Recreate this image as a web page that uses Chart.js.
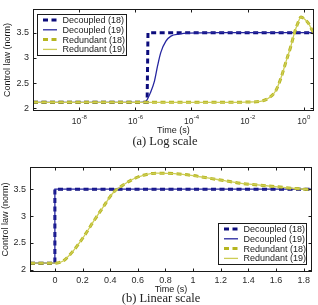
<!DOCTYPE html>
<html><head><meta charset="utf-8">
<script src="https://cdn.jsdelivr.net/npm/chart.js@4/dist/chart.umd.min.js"></script>
<style>
html,body{margin:0;padding:0;background:#fff;}
body{width:318px;height:305px;position:relative;overflow:hidden;}
.wrap{position:absolute;left:0;width:318px;}
#w1{top:0;height:136px;}
#w2{top:155px;height:140px;}
.cap{position:absolute;font-family:"Liberation Serif","Times New Roman",serif;font-size:12.5px;color:#222;white-space:nowrap;transform:translate(-50%,-50%);}
</style></head><body>
<div class="wrap" id="w1"><canvas id="c1"></canvas></div>
<div class="cap" style="left:165px;top:140.5px">(a) Log scale</div>
<div class="wrap" id="w2"><canvas id="c2"></canvas></div>
<div class="cap" style="left:161px;top:298px">(b) Linear scale</div>
<script>
// ---- data ----
const seriesNames = ['Decoupled (18)', 'Decoupled (19)', 'Redundant (18)', 'Redundant (19)'];
const yTicks = [2, 2.5, 3, 3.5];

// (a) log-scale panel
const logTicks = [1e-8, 1e-6, 1e-4, 1e-2, 1];
const logTickBase = '10';
const logTickExps = ['-8', '-6', '-4', '-2', '0'];
const logTimeDec18 = [2.24e-10, 2.63e-6, 2.82e-6, 2.29];
const logValDec18  = [2.12, 2.12, 3.5, 3.5];
const logTimeDec19 = [2.24e-10, 1.0e-6, 2.0e-6, 2.4e-6, 3.5e-6, 4.8e-6, 6.3e-6, 8.1e-6, 1.23e-5, 1.86e-5, 3.7e-5, 7.2e-5, 1e-3, 2.29];
const logValDec19  = [2.12, 2.12, 2.125, 2.14, 2.32, 2.54, 2.86, 3.11, 3.33, 3.43, 3.47, 3.49, 3.5, 3.5];
const logTimeRed = [2.24e-10, 1e-3, 1e-2, 0.035, 0.059, 0.102, 0.155, 0.234, 0.355, 0.468, 0.617, 0.81, 1.07, 1.51, 2.0, 2.29];
const logValRed  = [2.12, 2.12, 2.125, 2.15, 2.21, 2.35, 2.6, 2.92, 3.24, 3.49, 3.68, 3.81, 3.77, 3.68, 3.55, 3.5];

// (b) linear-scale panel
const linTicks = [0, 0.2, 0.4, 0.6, 0.8, 1, 1.2, 1.4, 1.6, 1.8];
const linTimeDec18 = [-0.18, 0, 0, 1.86];
const linValDec18  = [2.12, 2.12, 3.5, 3.5];
const linTimeDec19 = [-0.18, 0, 0.0001, 1.86];
const linValDec19  = [2.12, 2.12, 3.5, 3.5];
const linTimeRed = [-0.18, 0, 0.03, 0.06, 0.133, 0.205, 0.277, 0.35, 0.42, 0.494, 0.567, 0.64, 0.735, 0.865, 0.985, 1.105, 1.226, 1.347, 1.467, 1.588, 1.708, 1.853];
const linValRed  = [2.12, 2.12, 2.13, 2.16, 2.35, 2.60, 2.89, 3.17, 3.43, 3.58, 3.69, 3.76, 3.80, 3.79, 3.76, 3.71, 3.66, 3.61, 3.58, 3.55, 3.52, 3.49];

// ---- styles ----
const FONT = '"Liberation Sans", Arial, Helvetica, sans-serif';
const navyDash = '#0c0c7c', navyThin = '#2626a0', yelDash = '#b6b620', yelThin = '#cdcd55';
const pts = (xs, ys) => xs.map((x, i) => ({x: x, y: ys[i]}));

function makeDatasets(tD18, vD18, tD19, vD19, tR, vR18, vR19) {
  return [
    {label: seriesNames[0], data: pts(tD18, vD18), borderColor: navyDash, borderWidth: 3, borderDash: [5, 3.5], tension: 0, order: 4},
    {label: seriesNames[1], data: pts(tD19, vD19), borderColor: navyThin, borderWidth: 1.3, cubicInterpolationMode: 'monotone', order: 3},
    {label: seriesNames[2], data: pts(tR, vR18), borderColor: yelDash, borderWidth: 3, borderDash: [5, 3.5], cubicInterpolationMode: 'monotone', order: 2},
    {label: seriesNames[3], data: pts(tR, vR19), borderColor: yelThin, borderWidth: 1.3, cubicInterpolationMode: 'monotone', order: 1}
  ].map(d => Object.assign({pointRadius: 0, fill: false, backgroundColor: d.borderColor}, d));
}

const framePlugin = {
  id: 'frame',
  afterDatasetsDraw(chart, args, o) {
    const {ctx, chartArea: a} = chart;
    const xs = chart.scales.x, ys = chart.scales.y;
    ctx.save();
    ctx.setLineDash([]);
    ctx.strokeStyle = '#1a1a1a';
    ctx.lineWidth = 1;
    const L = Math.round(a.left) + 0.5, R = Math.round(a.right) - 0.5, T = Math.round(a.top) + 0.5, B = Math.round(a.bottom) - 0.5;
    ctx.beginPath();
    xs.ticks.forEach(t => {
      const p = Math.round(xs.getPixelForValue(t.value)) + 0.5;
      ctx.moveTo(p, B); ctx.lineTo(p, B - 3);
      ctx.moveTo(p, T); ctx.lineTo(p, T + 3);
    });
    ys.ticks.forEach(t => {
      const p = Math.round(ys.getPixelForValue(t.value)) + 0.5;
      ctx.moveTo(L, p); ctx.lineTo(L + 3, p);
      ctx.moveTo(R, p); ctx.lineTo(R - 3, p);
    });
    ctx.stroke();
    ctx.strokeRect(L, T, R - L, B - T);

    // legend
    const w = o.w, h = o.h;
    let bx, by;
    if (o.corner === 'tl') { bx = a.left + o.dx; by = a.top + o.dy; }
    else { bx = a.right - o.dx - w; by = a.bottom - o.dy - h; }
    bx = Math.round(bx) + 0.5; by = Math.round(by) + 0.5;
    ctx.fillStyle = '#fff';
    ctx.fillRect(bx, by, w, h);
    ctx.strokeStyle = '#1a1a1a';
    ctx.lineWidth = 1;
    ctx.strokeRect(bx, by, w, h);
    chart.data.datasets.forEach((d, i) => {
      const y = by + 5.5 + i * 9.8;
      ctx.save();
      ctx.strokeStyle = d.borderColor;
      ctx.lineWidth = d.borderWidth;
      ctx.setLineDash(d.borderDash || []);
      ctx.beginPath();
      ctx.moveTo(bx + 5.5, y); ctx.lineTo(bx + 19.5, y);
      ctx.stroke();
      ctx.restore();
      ctx.fillStyle = '#1a1a1a';
      ctx.font = '9px ' + FONT;
      ctx.textBaseline = 'middle';
      ctx.textAlign = 'left';
      ctx.fillText(d.label, bx + 25, y + 0.5);
    });

    // superscript log tick labels
    if (o.logLabels) {
      const ly = a.bottom + 11;
      xs.ticks.forEach((t, i) => {
        const p = xs.getPixelForValue(t.value);
        ctx.font = '8.5px ' + FONT;
        const w1 = ctx.measureText(logTickBase).width;
        ctx.font = '6px ' + FONT;
        const w2 = ctx.measureText(logTickExps[i]).width;
        const sx = p - (w1 + w2) / 2;
        ctx.fillStyle = '#2a2a2a';
        ctx.textAlign = 'left';
        ctx.textBaseline = 'middle';
        ctx.font = '8.5px ' + FONT;
        ctx.fillText(logTickBase, sx, ly);
        ctx.font = '6px ' + FONT;
        ctx.fillText(logTickExps[i], sx + w1 + 0.3, ly - 4);
      });
    }
    ctx.restore();
  }
};

const numLabel = v => String(Math.round(v * 100) / 100);

function yAxis(min, max, width, titlePad) {
  return {
    type: 'linear', min: min, max: max,
    afterBuildTicks: s => { s.ticks = yTicks.map(v => ({value: v})); },
    afterFit: s => { s.width = width; },
    grid: {display: false, drawTicks: false}, border: {display: false},
    ticks: {callback: numLabel, font: {family: FONT, size: 9}, color: '#2a2a2a', padding: 4},
    title: {display: true, text: 'Control law (norm)', font: {family: FONT, size: 9}, color: '#1a1a1a', padding: {top: titlePad, bottom: 0}}
  };
}

// chart (a)
new Chart(document.getElementById('c1'), {
  type: 'line',
  data: {datasets: makeDatasets(logTimeDec18, logValDec18, logTimeDec19, logValDec19, logTimeRed, logValRed, logValRed)},
  options: {
    responsive: true, maintainAspectRatio: false, animation: false, devicePixelRatio: 1,
    layout: {autoPadding: false, padding: {top: 5, right: 4.3, left: 0, bottom: 0}},
    plugins: {legend: {display: false}, tooltip: {enabled: false},
      frame: {corner: 'tl', dx: 3.7, dy: 5, w: 89, h: 41, logLabels: true}},
    scales: {
      x: {
        type: 'logarithmic', min: 2.24e-10, max: 2.29,
        afterBuildTicks: s => { s.ticks = logTicks.map(v => ({value: v})); },
        afterFit: s => { s.height = 25.3; },
        grid: {display: false, drawTicks: false}, border: {display: false},
        ticks: {display: false},
        title: {display: true, text: 'Time (s)', font: {family: FONT, size: 9}, color: '#1a1a1a', padding: {top: 0, bottom: 0}}
      },
      y: yAxis(1.954, 3.96, 33, 2.4)
    }
  },
  plugins: [framePlugin]
});

// chart (b)
new Chart(document.getElementById('c2'), {
  type: 'line',
  data: {datasets: makeDatasets(linTimeDec18, linValDec18, linTimeDec19, linValDec19, linTimeRed, linValRed, linValRed)},
  options: {
    responsive: true, maintainAspectRatio: false, animation: false, devicePixelRatio: 1,
    layout: {autoPadding: false, padding: {top: 11.7, right: 6, left: 0, bottom: 0}},
    plugins: {legend: {display: false}, tooltip: {enabled: false},
      frame: {corner: 'br', dx: 5.7, dy: 8, w: 88, h: 41, logLabels: false}},
    scales: {
      x: {
        type: 'linear', min: -0.18, max: 1.86,
        afterBuildTicks: s => { s.ticks = linTicks.map(v => ({value: v})); },
        afterFit: s => { s.height = 22.7; },
        grid: {display: false, drawTicks: false}, border: {display: false},
        ticks: {callback: numLabel, font: {family: FONT, size: 9}, color: '#2a2a2a', padding: 3, maxRotation: 0, autoSkip: false},
        title: {display: true, text: 'Time (s)', font: {family: FONT, size: 9}, color: '#1a1a1a', padding: {top: 0, bottom: 0.5}}
      },
      y: yAxis(1.95, 3.92, 30, 0)
    }
  },
  plugins: [framePlugin]
});
</script>
</body></html>
